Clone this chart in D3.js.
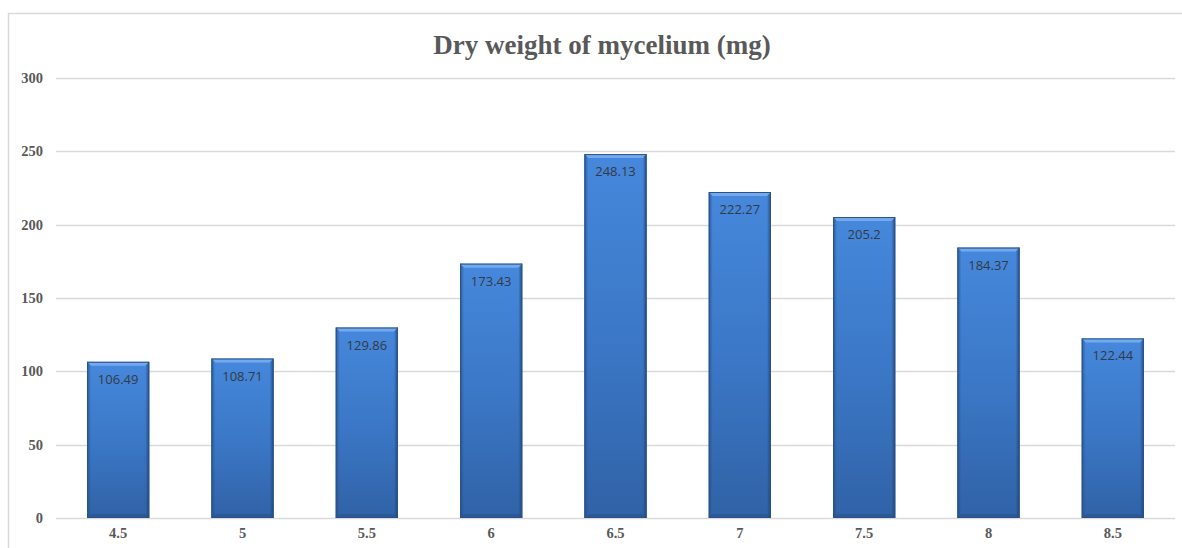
<!DOCTYPE html>
<html><head><meta charset="utf-8">
<script src="https://cdn.jsdelivr.net/npm/d3@7/dist/d3.min.js"></script>
<style>body{margin:0;background:#fff}svg{display:block}</style>
</head><body><svg id="c" width="1182" height="548"></svg>
<script>
const categories = ["4.5","5","5.5","6","6.5","7","7.5","8","8.5"];
const values = [106.49,108.71,129.86,173.43,248.13,222.27,205.2,184.37,122.44];
const yTicks = [0,50,100,150,200,250,300];
const title = "Dry weight of mycelium (mg)";

const svg = d3.select("#c");
const W = 1182, H = 548;
const m = {left:56, right:1175, top:78, bottom:518};
const serif = "'Liberation Serif', 'Times New Roman', Times, serif";

// chart frame
svg.append("path").attr("d", `M8.5,${H} V13.5 H${W}`).attr("fill","none").attr("stroke","#d9d9d9").attr("stroke-width",1.5);

const x = d3.scaleBand().domain(categories).range([m.left, m.right]).paddingInner(0.5).paddingOuter(0.25);
const y = d3.scaleLinear().domain([0,300]).range([m.bottom, m.top]);

// gridlines
svg.append("g").selectAll("line").data(yTicks).join("line")
  .attr("x1", m.left).attr("x2", m.right)
  .attr("y1", d=>Math.round(y(d))+0.5).attr("y2", d=>Math.round(y(d))+0.5)
  .attr("stroke","#d9d9d9").attr("stroke-width",1.3);

// y labels
const yAxis = d3.axisLeft(y).tickValues(yTicks).tickSize(0).tickPadding(0);
const gy = svg.append("g").attr("transform","translate(43,0)").call(yAxis);
gy.select(".domain").remove();
gy.selectAll("text").attr("font-family",serif)
  .attr("font-weight","bold").attr("font-size",14.5).attr("fill","#595959");

// x labels
const xAxis = d3.axisBottom(x).tickSize(0).tickPadding(0);
const gx = svg.append("g").attr("transform",`translate(0,${m.bottom+10})`).call(xAxis);
gx.select(".domain").remove();
gx.selectAll("text").attr("font-family",serif)
  .attr("font-weight","bold").attr("font-size",14.5).attr("fill","#595959");

// gradients
const defs = svg.append("defs");
const g1 = defs.append("linearGradient").attr("id","barFill").attr("x1",0).attr("y1",0).attr("x2",0).attr("y2",1);
g1.append("stop").attr("offset","0%").attr("stop-color","#4688dc");
g1.append("stop").attr("offset","55%").attr("stop-color","#3a76c4");
g1.append("stop").attr("offset","100%").attr("stop-color","#3062a6");
const g2 = defs.append("linearGradient").attr("id","sideL").attr("x1",0).attr("y1",0).attr("x2",1).attr("y2",0);
g2.append("stop").attr("offset","0%").attr("stop-color","#27508a").attr("stop-opacity",0.8);
g2.append("stop").attr("offset","100%").attr("stop-color","#27508a").attr("stop-opacity",0);
const g3 = defs.append("linearGradient").attr("id","sideR").attr("x1",1).attr("y1",0).attr("x2",0).attr("y2",0);
g3.append("stop").attr("offset","0%").attr("stop-color","#1f4475").attr("stop-opacity",0.85);
g3.append("stop").attr("offset","100%").attr("stop-color","#1f4475").attr("stop-opacity",0);

const data = categories.map((c,i)=>({c, v:values[i]}));
const bars = svg.append("g").selectAll("g").data(data).join("g");
const bw = x.bandwidth();
const bev = 4;

bars.append("rect")
  .attr("x", d=>x(d.c)).attr("y", d=>y(d.v))
  .attr("width", bw).attr("height", d=>y(0)-y(d.v))
  .attr("fill","url(#barFill)");
bars.append("rect").attr("x", d=>x(d.c)).attr("y", d=>y(d.v)).attr("width", bev).attr("height", d=>y(0)-y(d.v)).attr("fill","url(#sideL)");
bars.append("rect").attr("x", d=>x(d.c)+bw-bev).attr("y", d=>y(d.v)).attr("width", bev).attr("height", d=>y(0)-y(d.v)).attr("fill","url(#sideR)");
bars.append("path").attr("d", d=>{
  const x0=x(d.c), x1=x0+bw, t=y(d.v);
  return `M${x0},${t} H${x1} L${x1-bev},${t+bev} H${x0+bev} Z`;
}).attr("fill","#7db0f0").attr("opacity",0.85);
bars.append("path").attr("d", d=>{
  const x0=x(d.c), x1=x0+bw, b=y(0);
  return `M${x0},${b} H${x1} L${x1-bev},${b-bev} H${x0+bev} Z`;
}).attr("fill","#23497c").attr("opacity",0.35);
bars.append("rect")
  .attr("x", d=>x(d.c)+0.5).attr("y", d=>y(d.v)+0.5)
  .attr("width", bw-1).attr("height", d=>y(0)-y(d.v)-1)
  .attr("fill","none").attr("stroke","#2b5288").attr("stroke-width",1);

// data labels
bars.append("text")
  .attr("x", d=>x(d.c)+bw/2).attr("y", d=>y(d.v)+22)
  .attr("text-anchor","middle")
  .attr("font-family","'Open Sans','Liberation Sans',sans-serif")
  .attr("font-size",13).attr("fill","#333a45")
  .text(d=>d.v);

// title
svg.append("text").attr("x",602).attr("y",54).attr("text-anchor","middle")
  .attr("font-family",serif)
  .attr("font-weight","bold").attr("font-size",27).attr("fill","#595959")
  .text(title);
</script></body></html>
